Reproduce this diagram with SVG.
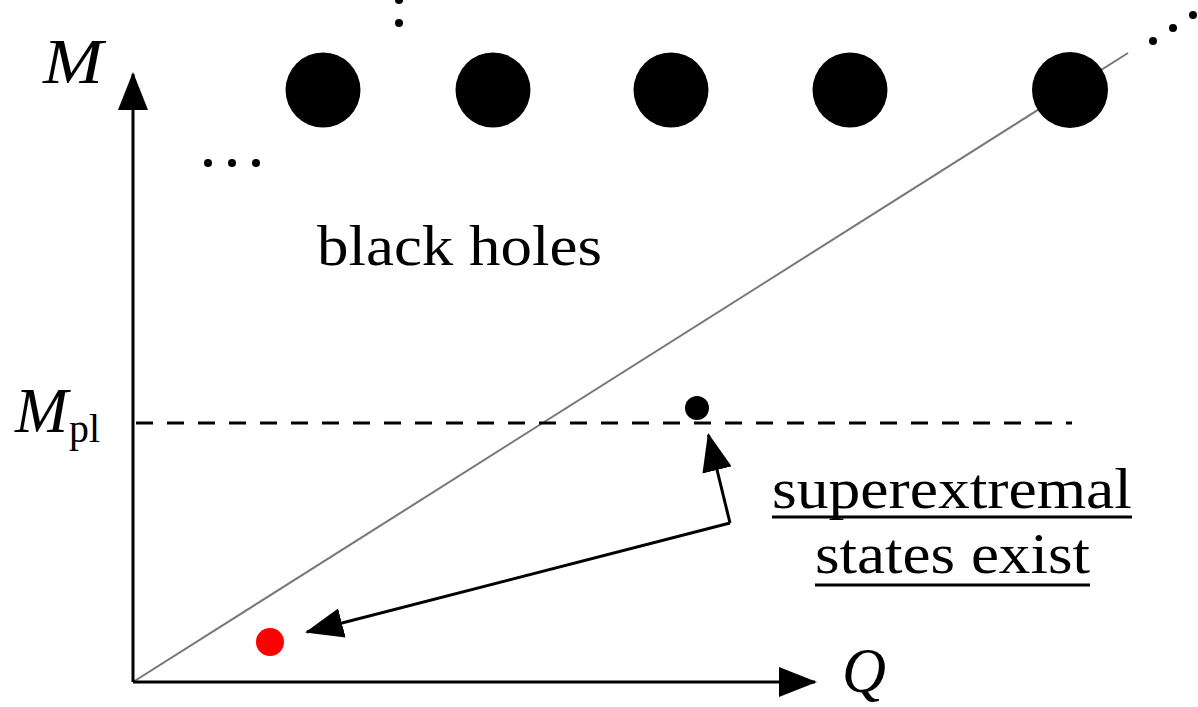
<svg xmlns="http://www.w3.org/2000/svg" width="1198" height="707" viewBox="0 0 1198 707">
<style>
.t{font-family:"Liberation Serif","Times New Roman",serif;fill:#000}
.i{font-style:italic}
.ax{stroke:#000;stroke-width:3;fill:none}
.bh{fill:#000}
.dot{fill:#000}
</style>
<defs>
<marker id="ah" viewBox="0 0 38 30" refX="36" refY="15" markerWidth="38" markerHeight="30" markerUnits="userSpaceOnUse" orient="auto">
<path d="M0,0 L38,15 L0,30 Z" fill="#000"/>
</marker>
</defs>
<rect width="1198" height="707" fill="#fff"/>
<g id="connectors">
<line x1="133" y1="682" x2="1128" y2="53" stroke="#777" stroke-width="2"/>
<line x1="133" y1="423" x2="1072" y2="423" stroke="#000" stroke-width="3" stroke-dasharray="17 14" stroke-dashoffset="-3"/>
<line class="ax" x1="133" y1="682" x2="133" y2="74" marker-end="url(#ah)"/>
<line class="ax" x1="133" y1="682" x2="815" y2="682" marker-end="url(#ah)"/>
<path class="ax" d="M730,523 L307,632" marker-end="url(#ah)"/>
<path class="ax" d="M730,523 L708.5,435" marker-end="url(#ah)"/>
</g>
<g id="axis-labels">
<text class="t i" x="43" y="83" font-size="64" textLength="60" lengthAdjust="spacingAndGlyphs">M</text>
<text class="t i" x="842" y="692" font-size="64" textLength="44" lengthAdjust="spacingAndGlyphs">Q</text>
<text class="t i" x="15" y="432" font-size="64" textLength="53" lengthAdjust="spacingAndGlyphs">M</text>
<text class="t" x="69" y="442" font-size="40" textLength="31" lengthAdjust="spacingAndGlyphs">pl</text>
</g>
<g id="black-holes">
<circle class="bh" cx="323" cy="90" r="37.5"/>
<circle class="bh" cx="493" cy="90" r="37.5"/>
<circle class="bh" cx="671" cy="90" r="37.5"/>
<circle class="bh" cx="850" cy="90" r="37.5"/>
<circle class="bh" cx="1070" cy="90" r="38"/>
<circle class="dot" cx="399" cy="0" r="4"/>
<circle class="dot" cx="399" cy="23" r="4"/>
<circle class="dot" cx="208" cy="163" r="4"/>
<circle class="dot" cx="232" cy="163" r="4"/>
<circle class="dot" cx="256" cy="163" r="4"/>
<circle class="dot" cx="1153" cy="41" r="4"/>
<circle class="dot" cx="1173" cy="28" r="4"/>
<circle class="dot" cx="1193" cy="15" r="4"/>
<text class="t" x="317" y="265" font-size="56" textLength="285" lengthAdjust="spacingAndGlyphs">black holes</text>
</g>
<g id="states">
<circle cx="697" cy="408" r="12" fill="#000"/>
<circle cx="270" cy="642" r="14" fill="#f00"/>
</g>
<g id="label">
<text class="t" x="772" y="508" font-size="57" textLength="360" lengthAdjust="spacingAndGlyphs">superextremal</text>
<line x1="772" y1="517" x2="1132" y2="517" stroke="#000" stroke-width="3"/>
<text class="t" x="815" y="573" font-size="57" textLength="275" lengthAdjust="spacingAndGlyphs">states exist</text>
<line x1="815" y1="585" x2="1090" y2="585" stroke="#000" stroke-width="3"/>
</g>
</svg>
